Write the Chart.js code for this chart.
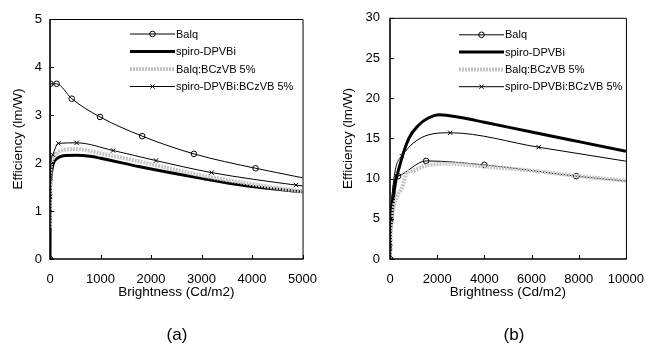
<!DOCTYPE html>
<html>
<head>
<meta charset="utf-8">
<script src="https://cdn.jsdelivr.net/npm/chart.js@4.4.0/dist/chart.umd.min.js"></script>
<style>
  body { margin: 0; background: #fff; width: 657px; height: 346px; position: relative; overflow: hidden;
         font-family: "Liberation Sans", Arial, sans-serif; }
  .wrap { position: absolute; top: 0; height: 346px; }
  #wrapA { left: 0; width: 330px; }
  #wrapB { left: 330px; width: 327px; }
  .tag { position: absolute; top: 325px; font-size: 17px; transform: translateX(-50%); color: #000; }
</style>
</head>
<body>
<div class="wrap" id="wrapA"><canvas id="chartA"></canvas></div>
<div class="wrap" id="wrapB"><canvas id="chartB"></canvas></div>
<div class="tag" style="left:177px">(a)</div>
<div class="tag" style="left:514px">(b)</div>
<script>
const seriesNames = ['Balq', 'spiro-DPVBi', 'Balq:BCzVB 5%', 'spiro-DPVBi:BCzVB 5%'];

// (a) brightness (Cd/m2) vs efficiency (lm/W)
const balqA_x  = [0, 8, 130, 430, 990, 1825, 2850, 4070, 5600];
const balqA_y  = [0, 3.65, 3.65, 3.34, 2.96, 2.56, 2.19, 1.89, 1.57];
const spiroA_x = [0, 5, 30, 65, 150, 263, 520, 790, 1000, 1780, 3000, 4000, 5000, 5400];
const spiroA_y = [0, 1.2, 1.8, 1.99, 2.1, 2.15, 2.16, 2.14, 2.1, 1.92, 1.68, 1.51, 1.4, 1.36];
const grayA_x  = [0, 5, 30, 65, 260, 530, 1000, 1780, 3000, 4000, 4700, 5000, 5400];
const grayA_y  = [0.65, 1.6, 2.0, 2.1, 2.27, 2.29, 2.2, 2.03, 1.74, 1.56, 1.45, 1.41, 1.37];
const crossA_x = [0, 3, 53, 165, 527, 1250, 2100, 3200, 4870, 5600];
const crossA_y = [1.3, 1.7, 2.17, 2.41, 2.42, 2.26, 2.05, 1.8, 1.54, 1.45];

// (b)
const balqB_x  = [0, 5, 340, 1530, 4000, 7900, 11000];
const balqB_y  = [0, 4.9, 10.3, 12.2, 11.7, 10.3, 9.4];
const spiroB_x = [0, 20, 70, 200, 400, 800, 1200, 1600, 2100, 3000, 4000, 6000, 8000, 10000, 10500];
const spiroB_y = [0, 3.0, 4.8, 8.9, 11.5, 15.0, 16.6, 17.5, 17.95, 17.6, 17.0, 15.8, 14.6, 13.4, 13.1];
const grayB_x  = [0, 30, 80, 300, 500, 700, 1000, 1500, 2500, 4000, 6000, 8000, 10000, 10500];
const grayB_y  = [0, 3, 5, 7.8, 8.8, 10.6, 11.0, 11.6, 11.85, 11.5, 11.0, 10.3, 9.75, 9.6];
const crossB_x = [0, 3, 20, 500, 2550, 6300, 11000];
const crossB_y = [1.4, 2.0, 4.9, 12.8, 15.7, 13.9, 11.7];

const FONT = '"Liberation Sans", Arial, sans-serif';

function pts(xs, ys) {
  return xs.map((x, i) => ({ x: x, y: ys[i] }));
}

function makeSets(b, s, g, c) {
  return [
    { label: seriesNames[0], data: b, borderColor: '#000', borderWidth: 1,
      pointStyle: 'circle', pointRadius: 2.8, pointBorderWidth: 1,
      pointBorderColor: '#000', pointBackgroundColor: 'rgba(0,0,0,0)', order: 4 },
    { label: seriesNames[1], data: s, borderColor: '#000', borderWidth: 3,
      pointRadius: 0, order: 3 },
    { label: seriesNames[2], data: g, borderColor: '#c6c6c6', borderWidth: 4,
      borderDash: [2, 1], pointRadius: 0, order: 2 },
    { label: seriesNames[3], data: c, borderColor: '#000', borderWidth: 1,
      pointStyle: 'crossRot', pointRadius: 3, pointBorderWidth: 1,
      pointBorderColor: '#000', pointBackgroundColor: '#000', order: 1 }
  ];
}

// box around the plot plus short inward tick marks
const framePlugin = {
  id: 'frame',
  afterDatasetsDraw(chart) {
    const { ctx, chartArea: a, scales } = chart;
    ctx.save();
    ctx.strokeStyle = '#000';
    ctx.lineWidth = 1;
    ctx.beginPath();
    ctx.moveTo(a.left, a.top + 0.5); ctx.lineTo(a.right + 0.5, a.top + 0.5);
    ctx.lineTo(a.right + 0.5, a.bottom);
    ctx.stroke();
    ctx.lineWidth = 1.6;
    ctx.beginPath();
    ctx.moveTo(a.left, a.top); ctx.lineTo(a.left, a.bottom); ctx.lineTo(a.right + 1, a.bottom);
    ctx.stroke();
    ctx.lineWidth = 1;
    scales.x.ticks.forEach(t => {
      const px = Math.round(scales.x.getPixelForValue(t.value)) + 0.5;
      ctx.beginPath(); ctx.moveTo(px, a.bottom); ctx.lineTo(px, a.bottom - 4); ctx.stroke();
    });
    scales.y.ticks.forEach(t => {
      const py = Math.round(scales.y.getPixelForValue(t.value)) + 0.5;
      ctx.beginPath(); ctx.moveTo(a.left, py); ctx.lineTo(a.left + 4, py); ctx.stroke();
    });
    ctx.restore();
  }
};

// legend drawn inside the plot: line sample with marker, then the name
const innerLegend = {
  id: 'innerLegend',
  afterDraw(chart, args, opts) {
    const { ctx, chartArea: a } = chart;
    ctx.save();
    ctx.font = '11px ' + FONT;
    ctx.textBaseline = 'middle';
    chart.data.datasets.forEach((ds, i) => {
      const y = a.top + opts.top + i * opts.gap;
      const x0 = a.left + opts.left, x1 = x0 + 45;
      ctx.strokeStyle = ds.borderColor;
      ctx.lineWidth = ds.borderWidth;
      ctx.setLineDash(ds.borderDash || []);
      ctx.beginPath(); ctx.moveTo(x0, y); ctx.lineTo(x1, y); ctx.stroke();
      ctx.setLineDash([]);
      if (ds.pointRadius > 0) {
        ctx.strokeStyle = ds.pointBorderColor;
        ctx.fillStyle = ds.pointBackgroundColor;
        ctx.lineWidth = ds.pointBorderWidth;
        Chart.helpers.drawPoint(ctx, { pointStyle: ds.pointStyle, radius: ds.pointRadius,
          borderWidth: ds.pointBorderWidth, rotation: 0 }, (x0 + x1) / 2, y);
      }
      ctx.fillStyle = '#000';
      ctx.fillText(ds.label, x1 + 1, y + 0.5);
    });
    ctx.restore();
  }
};

function makeChart(id, sets, xMax, xStep, yMax, yStep, pad, yAxisW, yPad, legendPos) {
  return new Chart(document.getElementById(id), {
    type: 'line',
    data: { datasets: sets },
    options: {
      responsive: true,
      maintainAspectRatio: false,
      animation: false,
      events: [],
      layout: { padding: pad },
      elements: { line: { cubicInterpolationMode: 'monotone', fill: false } },
      plugins: {
        legend: { display: false },
        tooltip: { enabled: false },
        innerLegend: legendPos
      },
      scales: {
        x: {
          type: 'linear', min: 0, max: xMax,
          grid: { display: false, drawTicks: false }, border: { display: false },
          ticks: { stepSize: xStep, color: '#000', padding: 13, maxRotation: 0,
                   font: { family: FONT, size: 13 }, callback: v => String(v) },
          title: { display: true, text: 'Brightness (Cd/m2)', color: '#000', padding: 0,
                   font: { family: FONT, size: 13.5 } },
          afterFit: s => { s.height = 41; }
        },
        y: {
          type: 'linear', min: 0, max: yMax,
          grid: { display: false, drawTicks: false }, border: { display: false },
          ticks: { stepSize: yStep, color: '#000', padding: yPad,
                   font: { family: FONT, size: 13 }, callback: v => String(v) },
          title: { display: true, text: 'Efficiency (lm/W)', color: '#000', padding: 0,
                   font: { family: FONT, size: 13.5 } },
          afterFit: s => { s.width = yAxisW; }
        }
      }
    },
    plugins: [framePlugin, innerLegend]
  });
}

makeChart('chartA',
  makeSets(pts(balqA_x, balqA_y), pts(spiroA_x, spiroA_y), pts(grayA_x, grayA_y), pts(crossA_x, crossA_y)),
  5000, 1000, 5, 1,
  { left: 10, top: 19, right: 25, bottom: 46 }, 40, 8,
  { left: 80, top: 15, gap: 17.5 });

makeChart('chartB',
  makeSets(pts(balqB_x, balqB_y), pts(spiroB_x, spiroB_y), pts(grayB_x, grayB_y), pts(crossB_x, crossB_y)),
  10000, 2000, 30, 5,
  { left: 10, top: 16, right: 18, bottom: 46 }, 50, 10,
  { left: 69, top: 17, gap: 17.3 });
</script>
</body>
</html>
